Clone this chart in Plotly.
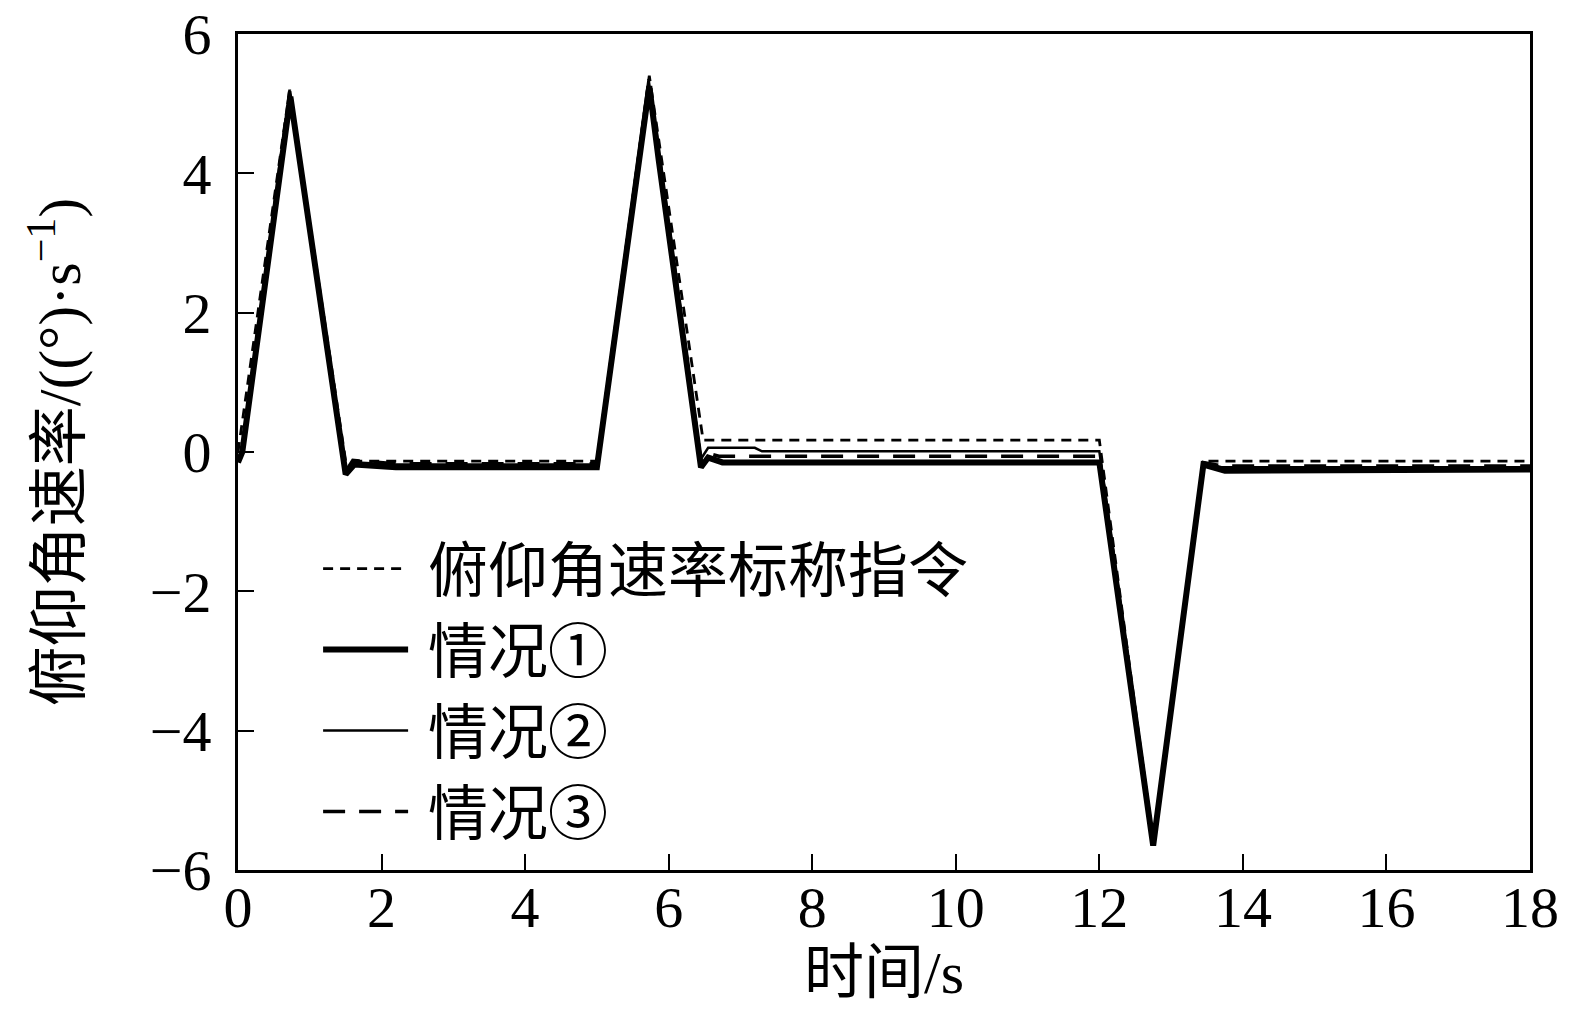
import plotly.graph_objects as go

# ---- data ----
t_cmd = [0, 0.72, 1.50, 5.00, 5.73, 6.48, 12.00, 12.75, 13.45, 18.0]
y_cmd = [0, 5.20, -0.13, -0.13, 5.40, 0.17, 0.17, -5.60, -0.13, -0.13]

t_c1 = [0, 0.06, 0.73, 1.50, 1.62, 2.20, 5.00, 5.73, 5.86, 6.45, 6.55, 6.75, 12.00, 12.75, 13.45, 13.75, 18.0]
y_c1 = [-0.15, 0.0, 5.10, -0.32, -0.18, -0.22, -0.22, 5.25, 4.2, -0.22, -0.08, -0.15, -0.15, -5.65, -0.18, -0.27, -0.25]

t_c2 = [0, 0.06, 0.72, 1.50, 1.65, 2.20, 5.00, 5.72, 6.45, 6.55, 7.20, 7.30, 12.00, 12.75, 13.45, 13.70, 18.0]
y_c2 = [-0.12, 0.0, 5.15, -0.25, -0.15, -0.18, -0.18, 5.35, -0.10, 0.06, 0.06, 0.01, 0.01, -5.55, -0.15, -0.22, -0.22]

t_c3 = [0, 0.06, 0.72, 1.50, 1.60, 2.20, 5.00, 5.73, 6.45, 6.55, 6.70, 12.00, 12.75, 13.45, 13.70, 18.0]
y_c3 = [-0.12, 0.0, 5.18, -0.28, -0.12, -0.17, -0.17, 5.30, -0.15, -0.02, -0.06, -0.06, -5.60, -0.15, -0.2, -0.2]

names = ["俯仰角速率标称指令", "情况①", "情况②", "情况③"]

x_ticks = [0, 2, 4, 6, 8, 10, 12, 14, 16, 18]
y_ticks = [-6, -4, -2, 0, 2, 4, 6]

FONT = "Liberation Serif, Times New Roman, Noto Sans CJK SC, serif"
GAP = "\u00a0"  # small gap between legend sample and label

fig = go.Figure()
fig.add_trace(go.Scatter(x=t_cmd, y=y_cmd, mode="lines", name=GAP + names[0],
                         line=dict(color="black", width=2.8, dash="10px,7px")))
fig.add_trace(go.Scatter(x=t_c1, y=y_c1, mode="lines", name=GAP + names[1],
                         line=dict(color="black", width=6)))
fig.add_trace(go.Scatter(x=t_c2, y=y_c2, mode="lines", name=GAP + names[2],
                         line=dict(color="black", width=2.5)))
fig.add_trace(go.Scatter(x=t_c3, y=y_c3, mode="lines", name=GAP + names[3],
                         line=dict(color="black", width=3.5, dash="22px,14px")))

# page has an 8px body margin, so the figure is sized to fit the window
fig.update_layout(
    width=1567, height=1025,
    paper_bgcolor="white", plot_bgcolor="white",
    margin=dict(l=230, r=45, t=26, b=163),
    font=dict(family=FONT, color="black", size=58),
    showlegend=True,
    legend=dict(x=0.062, y=0.415, xanchor="left", yanchor="top",
                bgcolor="rgba(0,0,0,0)", borderwidth=0,
                font=dict(size=60, family=FONT), itemwidth=85,
                tracegroupgap=0),
    xaxis=dict(range=[0, 18], tickvals=x_ticks, ticks="inside", ticklen=16,
               tickwidth=2, tickcolor="black", showline=True, linewidth=3,
               linecolor="black", mirror=True, showgrid=False, zeroline=False,
               automargin=False, ticklabelstandoff=-16, ticklabeloverflow="allow",
               tickfont=dict(size=58, family=FONT),
               title=dict(text="时间/s", font=dict(size=60, family=FONT), standoff=0)),
    yaxis=dict(range=[-6, 6], tickvals=y_ticks, ticks="inside", ticklen=16,
               tickwidth=2, tickcolor="black", showline=True, linewidth=3,
               linecolor="black", mirror=True, showgrid=False, zeroline=False,
               automargin=False, ticklabeloverflow="allow",
               tickfont=dict(size=58, family=FONT), ticklabelstandoff=12,
               title=dict(text="俯仰角速率/((°)·s<sup>−1</sup>)",
                          font=dict(size=60, family=FONT), standoff=50)),
)

fig.write_html("out.html")
